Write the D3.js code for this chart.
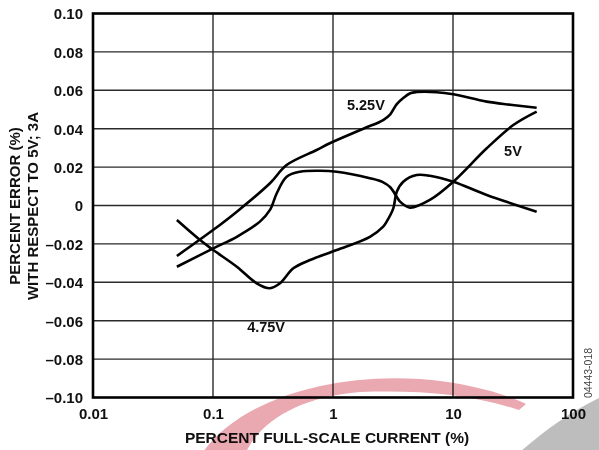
<!DOCTYPE html>
<html>
<head>
<meta charset="utf-8">
<script src="https://cdn.jsdelivr.net/npm/d3@7"></script>
<style>
  html, body { margin: 0; padding: 0; background: #fff; }
  svg { display: block; }
  text { font-family: "Liberation Sans", Arial, sans-serif; }
</style>
</head>
<body>
<svg id="chart" width="599" height="450"></svg>
<script>
// ---- data ----
const xTickValues = [0.01, 0.1, 1, 10, 100];
const xTickLabels = ["0.01", "0.1", "1", "10", "100"];
const yTickValues = [-0.10, -0.08, -0.06, -0.04, -0.02, 0, 0.02, 0.04, 0.06, 0.08, 0.10];
const yTickLabels = ["\u20130.10", "\u20130.08", "\u20130.06", "\u20130.04", "\u20130.02", "0", "0.02", "0.04", "0.06", "0.08", "0.10"];

const seriesNames = ["5.25V", "5V", "4.75V"];

const current525 = [0.05, 0.1, 0.158, 0.2985, 0.411, 0.73, 0.94, 1.79, 2.62, 3.0, 3.4, 3.85, 4.4, 5.0, 7.3, 10.06, 19.1, 30, 49.8];
const error525   = [-0.0263, -0.0128, -0.0032, 0.0116, 0.0211, 0.0289, 0.0324, 0.0400, 0.0445, 0.0475, 0.0528, 0.0560, 0.0585, 0.0591, 0.0590, 0.0579, 0.0541, 0.0525, 0.0509];

const current500 = [0.05, 0.1006, 0.158, 0.246, 0.2985, 0.34, 0.411, 0.531, 0.78, 1.074, 2.03, 2.6, 3.0, 3.4, 3.62, 4.38, 6.41, 10.06, 19.1, 31.8, 49.8];
const error500   = [-0.0319, -0.0223, -0.0163, -0.0084, -0.0023, 0.0064, 0.0150, 0.0176, 0.0181, 0.0176, 0.0142, 0.0122, 0.0095, 0.0045, 0.0020, -0.0011, 0.0029, 0.0124, 0.0298, 0.0419, 0.0489];

const current475 = [0.05, 0.078, 0.1006, 0.158, 0.231, 0.2985, 0.3617, 0.467, 0.643, 1.074, 2.03, 2.62, 2.8, 3.18, 3.4, 3.85, 4.98, 6.41, 10.06, 19.1, 49.8];
const error475   = [-0.0076, -0.0180, -0.0232, -0.0319, -0.0405, -0.0431, -0.0405, -0.0327, -0.0284, -0.0232, -0.0163, -0.0110, -0.0084, -0.0015, 0.0072, 0.0124, 0.0159, 0.0155, 0.0124, 0.0055, -0.0032];

const labelCurrent = [1.88, 31.6, 0.277];
const labelError   = [0.0526, 0.0284, -0.0634];

const xTitle = "PERCENT FULL-SCALE CURRENT (%)";
const yTitle1 = "PERCENT ERROR (%)";
const yTitle2 = "WITH RESPECT TO 5V; 3A";
const figCode = "04443-018";

(function () {
const svg = d3.select("#chart");
const pL = 93, pR = 573, pT = 13.5, pB = 397.5;
const x = d3.scaleLog().domain([0.01, 100]).range([pL, pR]);
const y = d3.scaleLinear().domain([-0.10, 0.10]).range([pB, pT]);
const font = "Liberation Sans, Arial, sans-serif";

// grid
const g = svg.append("g");
g.selectAll("line.vg").data(xTickValues.slice(1, -1)).enter().append("line")
  .attr("x1", d => x(d)).attr("x2", d => x(d)).attr("y1", pT).attr("y2", pB)
  .attr("stroke", "#2a2a2a").attr("stroke-width", 1.4);
g.selectAll("line.hg").data(yTickValues.slice(1, -1)).enter().append("line")
  .attr("y1", d => y(d)).attr("y2", d => y(d)).attr("x1", pL).attr("x2", pR)
  .attr("stroke", "#2a2a2a").attr("stroke-width", 1.4);

// frame
svg.append("rect").attr("x", pL).attr("y", pT).attr("width", pR - pL).attr("height", pB - pT)
  .attr("fill", "none").attr("stroke", "#000").attr("stroke-width", 2.6);

// axis tick labels
const xAxis = d3.axisBottom(x).tickValues(xTickValues).tickFormat((d, i) => xTickLabels[i]).tickSize(0).tickPadding(0);
const xa = svg.append("g").attr("transform", `translate(0,${pB})`).call(xAxis);
xa.select(".domain").remove();
xa.selectAll("text").attr("y", 21.5).attr("dy", 0)
  .style("font-family", font).style("font-size", "15px").style("font-weight", "bold").attr("fill", "#111");

const yAxis = d3.axisLeft(y).tickValues(yTickValues).tickFormat((d, i) => yTickLabels[i]).tickSize(0).tickPadding(0);
const ya = svg.append("g").attr("transform", `translate(${pL - 10},0)`).call(yAxis);
ya.select(".domain").remove();
ya.selectAll("text").attr("x", 0).attr("dy", "0.36em")
  .style("font-family", font).style("font-size", "15px").style("font-weight", "bold").attr("fill", "#111");

// titles
svg.append("text").attr("x", 327).attr("y", 442.5).attr("text-anchor", "middle")
  .style("font-size", "15.5px").style("font-weight", "bold").attr("fill", "#111").text(xTitle);
svg.append("text").attr("transform", "translate(19.5,206) rotate(-90)").attr("text-anchor", "middle")
  .style("font-size", "15px").style("font-weight", "bold").attr("fill", "#111").text(yTitle1);
svg.append("text").attr("transform", "translate(38,206) rotate(-90)").attr("text-anchor", "middle")
  .style("font-size", "15px").style("font-weight", "bold").attr("fill", "#111").text(yTitle2);
svg.append("text").attr("transform", "translate(592,373) rotate(-90)").attr("text-anchor", "middle")
  .style("font-size", "10.5px").attr("fill", "#444").text(figCode);

// curves
const series = [
  { name: seriesNames[0], xs: current525, ys: error525 },
  { name: seriesNames[1], xs: current500, ys: error500 },
  { name: seriesNames[2], xs: current475, ys: error475 }
];
const line = d3.line().x(d => x(d[0])).y(d => y(d[1])).curve(d3.curveCatmullRom.alpha(0.5));
svg.selectAll("path.curve").data(series).enter().append("path")
  .attr("class", "curve")
  .attr("d", s => line(s.xs.map((v, i) => [v, s.ys[i]])))
  .attr("fill", "none").attr("stroke", "#000").attr("stroke-width", 2.6)
  .attr("stroke-linejoin", "round").attr("stroke-linecap", "butt");

// series labels
svg.selectAll("text.lbl").data(series).enter().append("text")
  .attr("x", (s, i) => x(labelCurrent[i])).attr("y", (s, i) => y(labelError[i]))
  .attr("text-anchor", "middle").attr("dy", "0.36em")
  .style("font-size", "14.5px").style("font-weight", "bold").attr("fill", "#111")
  .text(s => s.name);

// decorative watermark
const wm = svg.append("g").style("mix-blend-mode", "multiply").attr("pointer-events", "none");
wm.append("path")
  .attr("d", "M203,452 C240,400 330,373 420,379 C470,383 505,394 526,404 L519,410 C470,394 420,390 360,392 C300,397 262,420 246,452 Z")
  .attr("fill", "#eaa8b1");
wm.append("path")
  .attr("d", "M520,452 C545,430 570,412 601,397 L601,452 Z")
  .attr("fill", "#bdbdbd");
})();
</script>
</body>
</html>
